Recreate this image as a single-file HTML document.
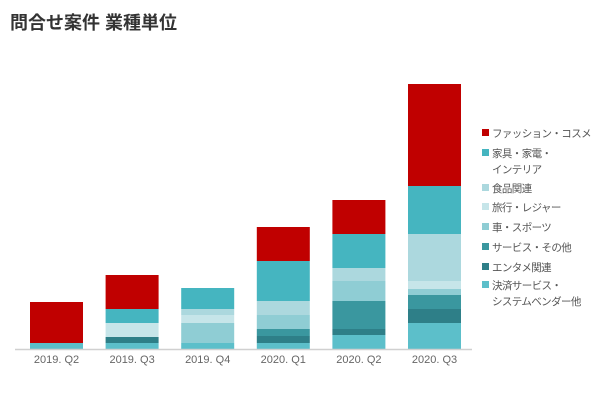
<!DOCTYPE html>
<html><head><meta charset="utf-8">
<style>
body{margin:0;background:#fff;width:600px;height:415px;overflow:hidden;font-family:"Liberation Sans","Noto Sans CJK JP",sans-serif;}
#title{position:absolute;left:10px;top:9px;font-size:18px;font-weight:bold;color:#333;font-family:"Liberation Sans","Noto Sans CJK JP",sans-serif;}
svg{position:absolute;left:0;top:0;}
</style></head><body>
<div id="title">問合せ案件 業種単位</div>
<svg id="chart" width="600" height="415"></svg>
<script>
const categories=["2019. Q2","2019. Q3","2019. Q4","2020. Q1","2020. Q2","2020. Q3"];
const seriesNames=["決済サービス・システムベンダー他","エンタメ関連","サービス・その他","車・スポーツ","旅行・レジャー","食品関連","家具・家電・インテリア","ファッション・コスメ"];
const kessai=[6,6,6,6,14,26];
const entame=[0,6,0,7,6,14];
const service=[0,0,0,7,28,14];
const kuruma=[0,0,20,14,20,6];
const ryokou=[0,14,8,0,0,8];
const shokuhin=[0,0,6,14,13,47];
const kagu=[0,14,21,40,34,48];
const fashion=[41,34,0,34,34,102];
const seriesValues=[kessai,entame,service,kuruma,ryokou,shokuhin,kagu,fashion];
const colors=["#5cbfca","#2e7f88","#3a979f","#8fcdd4","#c6e5e9","#acd8de","#45b5c0","#c00000"];
const legendOrder=[7,6,5,4,3,2,1,0];
const legendLines=[["ファッション・コスメ"],["家具・家電・","インテリア"],["食品関連"],["旅行・レジャー"],["車・スポーツ"],["サービス・その他"],["エンタメ関連"],["決済サービス・","システムベンダー他"]];
const legendY=[133,153,188,207,227,247,267,285];
const NS="http://www.w3.org/2000/svg";
const svg=document.getElementById("chart");
const baseY=349, unit=1;
function xPos(i){return 30+i*75.6;}
function yScale(v){return v*unit;}
const barW=53;
function mk(tag,attrs){const e=document.createElementNS(NS,tag);for(const k in attrs)e.setAttribute(k,attrs[k]);svg.appendChild(e);return e;}
categories.forEach((c,i)=>{
  let y=baseY;
  seriesValues.forEach((s,j)=>{
    const h=yScale(s[i]);
    if(h<=0)return;
    y-=h;
    const r=mk("rect",{x:xPos(i),y:y,width:barW,height:h,fill:colors[j]});
    
    
  });
  const t=mk("text",{x:xPos(i)+barW/2,y:363,"text-anchor":"middle","font-size":"11",fill:"#666"});
  t.textContent=c;
  
  
});
const ax=mk("line",{x1:15,x2:472,y1:baseY+0.5,y2:baseY+0.5,stroke:"#d0d0d0","stroke-width":1.5});


legendOrder.forEach((si,k)=>{
  const y=legendY[k];
  const sq=mk("rect",{x:482,y:y-4,width:7,height:7,fill:colors[si]});
  
  
  legendLines[k].forEach((ln,li)=>{
    const t=mk("text",{x:492,y:y+4+li*16,"font-size":"10.5","letter-spacing":"-0.6",fill:"#555"});
    t.textContent=ln;
    
    
  });
});
</script>
</body></html>
